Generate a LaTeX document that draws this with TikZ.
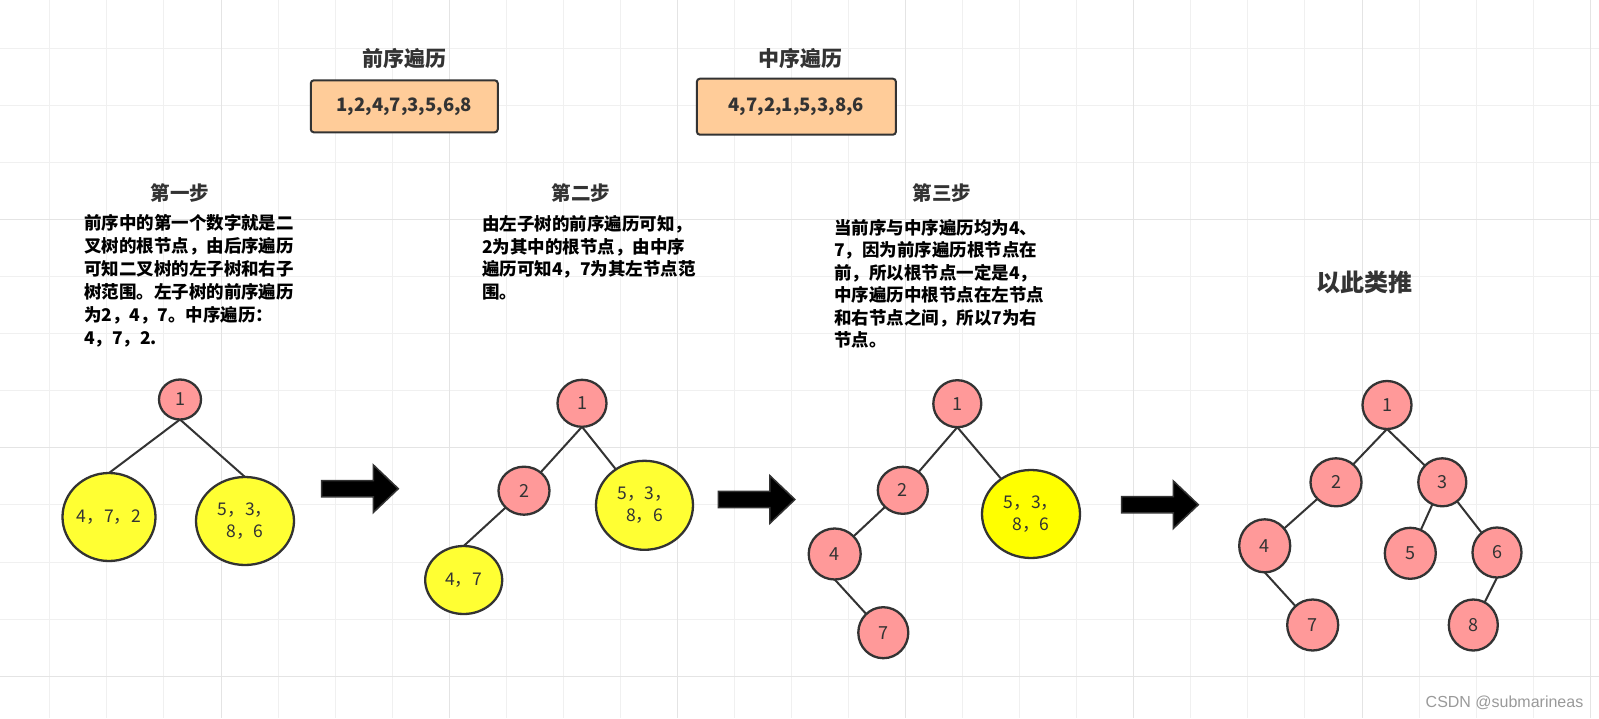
\documentclass[tikz,border=0pt]{standalone}
\usepackage{fontspec}
\setmainfont{Noto Sans CJK SC}
\newfontfamily\cjk{Noto Sans CJK SC}
\newfontfamily\wmfont{Liberation Sans}
\usetikzlibrary{shapes.geometric}
\definecolor{gridminor}{HTML}{F0F0F0}
\definecolor{gridmajor}{HTML}{E4E4E4}
\definecolor{ink}{HTML}{333333}
\definecolor{boxfill}{HTML}{FFCC99}
\definecolor{pinkfill}{HTML}{FF9999}
\definecolor{yel}{HTML}{FFFF33}
\definecolor{yelpure}{HTML}{FFFF00}
\definecolor{wmgray}{HTML}{9A9A9A}
\tikzset{
  blockarr/.pic={\draw[draw=ink, line width=1.5pt, fill=black, line join=miter]
     (0,-8.2) -- (51.6,-8.2) -- (51.6,-23.8) -- (76.6,0) -- (51.6,23.8) -- (51.6,8.2) -- (0,8.2) -- cycle;}
}
\begin{document}
\begin{tikzpicture}[x=1pt,y=-1pt,
  every node/.style={inner sep=0pt, outer sep=0pt},
  seqbox/.style={draw=ink, line width=2pt, fill=boxfill, rounded corners=3pt, text=ink,
     font=\cjk\bfseries\fontsize{18.5}{22}\selectfont},
  toptitle/.style={text=ink, font=\cjk\bfseries\fontsize{21}{24}\selectfont},
  steptitle/.style={text=ink, font=\cjk\bfseries\fontsize{19.5}{22}\selectfont},
  para/.style={text=black, align=left, anchor=north west},
  tnode/.style={ellipse, draw=ink, line width=2.3pt, fill=pinkfill, text=ink,
     font=\cjk\fontsize{18}{20}\selectfont},
  ynode/.style={ellipse, draw=ink, line width=2.3pt, fill=yel, text=ink, align=center,
     font=\cjk\fontsize{17.5}{21.7}\selectfont},
  treeline/.style={draw=ink, line width=2pt}
]
\useasboundingbox (0,0) rectangle (1599,718);
\fill[white] (0,0) rectangle (1599,718);
% grid
\foreach \k in {-3,...,24} \draw[gridminor, line width=1pt] (221+57.05*\k,0) -- (221+57.05*\k,718);
\foreach \k in {-7,...,4} \draw[gridminor, line width=1pt] (0,447.9+57.05*\k) -- (1599,447.9+57.05*\k);
\foreach \k in {0,...,6} \draw[gridmajor, line width=1pt] (221+228.2*\k,0) -- (221+228.2*\k,718);
\foreach \k in {-1,0,1} \draw[gridmajor, line width=1pt] (0,447.9+228.2*\k) -- (1599,447.9+228.2*\k);

% top titles and boxes
\node[toptitle] (pretitle) at (404.8,58.3) {前序遍历};
\node[toptitle] (intitle) at (800.8,58.3) {中序遍历};
\node[seqbox, minimum width=187pt, minimum height=52pt] (preseq) at (404.3,106.3) {1,2,4,7,3,5,6,8};
\node[seqbox, minimum width=199pt, minimum height=56pt] (inseq) at (796.4,106.7) {4,7,2,1,5,3,8,6};

% step titles
\node[steptitle] (st1) at (180,193.3) {第一步};
\node[steptitle] (st2) at (581,193.3) {第二步};
\node[steptitle] (st3) at (942,193.3) {第三步};

% paragraphs
\node[para, font=\cjk\bfseries\fontsize{17.5}{23.1}\selectfont] (p1) at (84,214)
  {前序中的第一个数字就是二\\叉树的根节点，由后序遍历\\可知二叉树的左子树和右子\\树范围。左子树的前序遍历\\为2，4，7。中序遍历：\\4，7，2.};
\node[para, font=\cjk\bfseries\fontsize{17.5}{22.4}\selectfont] (p2) at (482,215.8)
  {由左子树的前序遍历可知，\\2为其中的根节点，由中序\\遍历可知4，7为其左节点范\\围。};
\node[para, font=\cjk\bfseries\fontsize{17.5}{22.4}\selectfont] (p3) at (834,219.3)
  {当前序与中序遍历均为4、\\7，因为前序遍历根节点在\\前，所以根节点一定是4，\\中序遍历中根节点在左节点\\和右节点之间，所以7为右\\节点。};
\node[text=ink, font=\cjk\bfseries\fontsize{24}{27}\selectfont] (etc) at (1364,282) {以此类推};

% tree 1
\node[tnode, minimum width=42pt, minimum height=40pt] (a1) at (180,399.5) {1};
\node[ynode, minimum width=93pt, minimum height=88pt] (a2) at (109,517) {4，7，2};
\node[ynode, minimum width=98pt, minimum height=88pt] (a3) at (245,521) {5，3，\\8，6};
\draw[treeline] (a1.south) -- (a2.north);
\draw[treeline] (a1.south) -- (a3.north);

% tree 2
\node[tnode, minimum width=49pt, minimum height=47pt] (b1) at (582,403.3) {1};
\node[tnode, minimum width=51pt, minimum height=48pt] (b2) at (524,490.7) {2};
\node[ynode, minimum width=97pt, minimum height=89pt] (b3) at (644.5,505.3) {5，3，\\8，6};
\node[ynode, minimum width=77pt, minimum height=68pt] (b4) at (463.7,580) {4，7};
\draw[treeline] (b1.south) -- (b2);
\draw[treeline] (b1.south) -- (b3);
\draw[treeline] (b2) -- (b4.north);

% tree 3
\node[tnode, minimum width=48pt, minimum height=47pt] (c1) at (957.3,403.7) {1};
\node[tnode, minimum width=50pt, minimum height=47pt] (c2) at (902.8,490.3) {2};
\node[ynode, fill=yelpure, minimum width=98pt, minimum height=88pt] (c3) at (1031,514) {5，3，\\8，6};
\node[tnode, minimum width=52pt, minimum height=51pt] (c4) at (834.7,554) {4};
\node[tnode, minimum width=50pt, minimum height=51pt] (c7) at (883.3,632.7) {7};
\draw[treeline] (c1.south) -- (c2);
\draw[treeline] (c1.south) -- (c3);
\draw[treeline] (c2) -- (c4);
\draw[treeline] (c4.south) -- (c7);

% tree 4
\node[tnode, minimum width=49pt, minimum height=48pt] (d1) at (1387,405) {1};
\node[tnode, minimum width=51pt, minimum height=48pt] (d2) at (1336,482.3) {2};
\node[tnode, minimum width=48pt, minimum height=48pt] (d3) at (1442.3,482.3) {3};
\node[tnode, minimum width=51pt, minimum height=53pt] (d4) at (1264.7,545.8) {4};
\node[tnode, minimum width=51pt, minimum height=51pt] (d5) at (1410.3,553.3) {5};
\node[tnode, minimum width=49pt, minimum height=50pt] (d6) at (1497,552.5) {6};
\node[tnode, minimum width=51pt, minimum height=51pt] (d7) at (1312.7,625) {7};
\node[tnode, minimum width=49pt, minimum height=51pt] (d8) at (1473.3,625) {8};
\draw[treeline] (d1.south) -- (d2);
\draw[treeline] (d1.south) -- (d3);
\draw[treeline] (d2) -- (d4);
\draw[treeline] (d3) -- (d5);
\draw[treeline] (d3) -- (d6);
\draw[treeline] (d4.south) -- (d7);
\draw[treeline] (d6.south) -- (d8);

% block arrows
\pic at (321.7,488.7) {blockarr};
\pic at (718.3,499.5) {blockarr};
\pic at (1121.7,504.7) {blockarr};

% watermark
\node[anchor=base, text=wmgray, font=\wmfont\fontsize{16}{18}\selectfont] (wm) at (1504.5,707.7) {CSDN @submarineas};
\end{tikzpicture}
\end{document}
